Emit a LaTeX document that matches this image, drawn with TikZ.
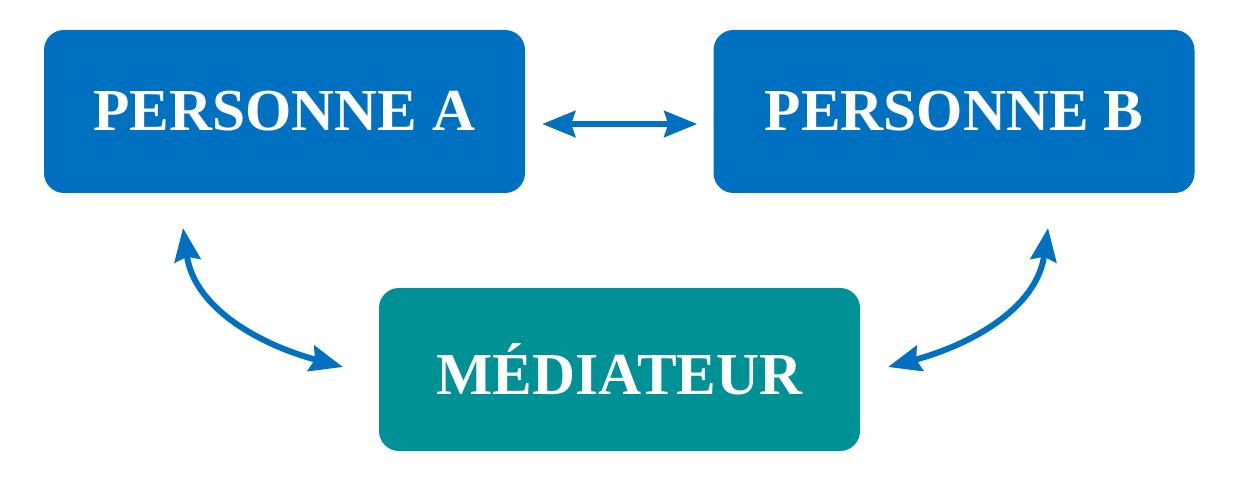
\documentclass[tikz,border=0pt]{standalone}
\usepackage{fontspec}
\setmainfont{Liberation Serif}
\usetikzlibrary{arrows.meta,calc}
\definecolor{boxblue}{RGB}{0,112,192}
\definecolor{boxteal}{RGB}{0,145,150}
\tikzset{tipx/.tip={Stealth[length=33pt,width=26pt,inset=4pt]}}
\begin{document}
\begin{tikzpicture}[x=1pt,y=1pt,
  box/.style={rounded corners=20pt, minimum width=481pt, minimum height=163pt, inner sep=0pt,
    text=white, font=\fontsize{59.5}{70}\selectfont\bfseries},
  link/.style={draw=boxblue, line width=6pt, tipx-tipx}
]
\useasboundingbox (0,0) rectangle (1233,490);
\node[box, fill=boxblue] (A) at (284.5,378.5) {PERSONNE A};
\node[box, fill=boxblue] (B) at (954,378.5) {PERSONNE B};
\node[box, fill=boxteal] (M) at (619.5,120.5) {MÉDIATEUR};
\coordinate (a1) at (183,262);
\coordinate (m1) at (343,123);
\coordinate (b1) at (1048,262);
\coordinate (m2) at (888,123);
\draw[link, shorten <=17pt, shorten >=16pt] ([yshift=-12.5pt]A.east) -- ([yshift=-12.5pt]B.west);
\draw[link] (a1) to[out=-82, in=165] (m1);
\draw[link] (b1) to[out=-98, in=15] (m2);
\end{tikzpicture}
\end{document}
